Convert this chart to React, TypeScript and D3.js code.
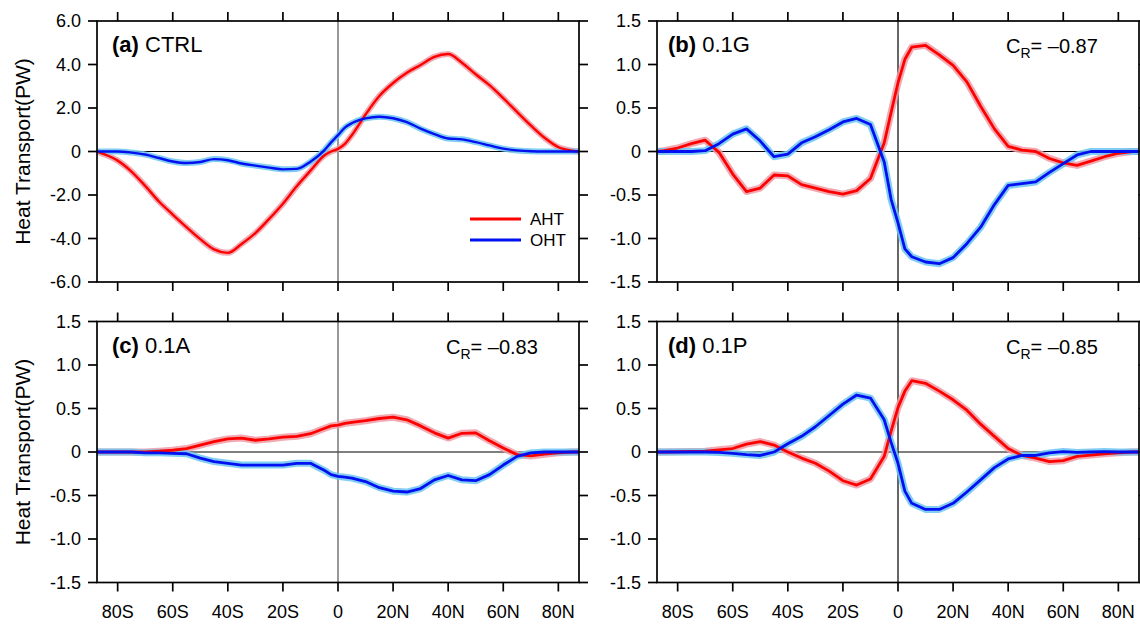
import React from "react";
import * as d3 from "d3";

// latitude grid (deg, negative = south)
const lats = [-87.5, -85, -80, -75, -70, -65, -60, -55, -50, -45, -40, -35, -30, -25, -20, -15, -10, -5, -2.5, 0, 2.5, 5, 10, 15, 20, 25, 30, 35, 40, 45, 50, 55, 60, 65, 70, 75, 80, 85, 87.5];

// (a) CTRL
const ctrlAHT = [0, -0.12, -0.42, -0.92, -1.58, -2.3, -2.9, -3.48, -4.03, -4.5, -4.66, -4.25, -3.75, -3.1, -2.4, -1.6, -0.88, -0.18, 0.0, 0.12, 0.35, 0.75, 1.7, 2.55, 3.15, 3.62, 3.98, 4.35, 4.48, 4.08, 3.55, 3.05, 2.45, 1.82, 1.2, 0.63, 0.2, 0.04, 0];
const ctrlOHT = [0, 0, 0, -0.05, -0.14, -0.3, -0.46, -0.53, -0.48, -0.35, -0.4, -0.55, -0.65, -0.74, -0.82, -0.8, -0.47, 0.05, 0.42, 0.75, 1.1, 1.3, 1.52, 1.6, 1.53, 1.35, 1.05, 0.8, 0.6, 0.56, 0.43, 0.28, 0.13, 0.05, 0.01, 0, 0, 0, 0];

// (b) 0.1G
const gAHT = [0, 0.01, 0.04, 0.09, 0.13, -0.01, -0.26, -0.46, -0.42, -0.27, -0.28, -0.38, -0.42, -0.46, -0.49, -0.45, -0.31, 0.1, 0.45, 0.79, 1.06, 1.2, 1.22, 1.11, 0.99, 0.8, 0.52, 0.26, 0.06, 0.015, 0, -0.08, -0.13, -0.16, -0.11, -0.06, -0.02, 0, 0];
const gOHT = [0, 0, 0, 0, 0.01, 0.09, 0.2, 0.26, 0.12, -0.06, -0.03, 0.1, 0.17, 0.25, 0.34, 0.38, 0.31, -0.12, -0.55, -0.82, -1.12, -1.21, -1.27, -1.29, -1.22, -1.06, -0.87, -0.61, -0.39, -0.37, -0.35, -0.24, -0.14, -0.04, 0, 0, 0, 0, 0];

// (c) 0.1A
const aAHT = [0, 0, 0, 0, 0, 0.01, 0.02, 0.04, 0.08, 0.12, 0.15, 0.16, 0.135, 0.15, 0.17, 0.18, 0.21, 0.27, 0.3, 0.31, 0.33, 0.34, 0.36, 0.385, 0.4, 0.37, 0.3, 0.22, 0.16, 0.215, 0.22, 0.13, 0.045, -0.03, -0.045, -0.025, -0.01, 0, 0];
const aOHT = [0, 0, 0, 0, -0.01, -0.01, -0.015, -0.02, -0.07, -0.11, -0.13, -0.15, -0.15, -0.15, -0.15, -0.13, -0.13, -0.21, -0.26, -0.28, -0.29, -0.3, -0.34, -0.41, -0.45, -0.46, -0.42, -0.32, -0.27, -0.32, -0.33, -0.26, -0.15, -0.05, -0.01, 0, 0, 0, 0];

// (d) 0.1P
const pAHT = [0, 0, 0.003, 0.006, 0.01, 0.025, 0.04, 0.09, 0.12, 0.08, 0.0, -0.07, -0.13, -0.22, -0.33, -0.38, -0.31, -0.05, 0.24, 0.51, 0.7, 0.82, 0.79, 0.7, 0.6, 0.48, 0.32, 0.18, 0.04, -0.04, -0.07, -0.11, -0.1, -0.05, -0.035, -0.02, -0.01, 0, 0];
const pOHT = [0, 0, 0, 0, 0, -0.005, -0.015, -0.03, -0.04, 0.0, 0.095, 0.18, 0.29, 0.42, 0.55, 0.655, 0.62, 0.37, 0.11, -0.13, -0.45, -0.59, -0.66, -0.66, -0.59, -0.46, -0.32, -0.18, -0.08, -0.04, -0.04, -0.01, 0.005, -0.005, 0, 0.005, 0, 0, 0];

const yTicksCtrl = [6, 4, 2, 0, -2, -4, -6];
const yLabelsCtrl = ["6.0", "4.0", "2.0", "0", "-2.0", "-4.0", "-6.0"];
const yTicksExp = [1.5, 1, 0.5, 0, -0.5, -1, -1.5];
const yLabelsExp = ["1.5", "1.0", "0.5", "0", "-0.5", "-1.0", "-1.5"];
const xTicks = [-80, -60, -40, -20, 0, 20, 40, 60, 80];
const xLabels = ["80S", "60S", "40S", "20S", "0", "20N", "40N", "60N", "80N"];

const tags = ["(a)", "(b)", "(c)", "(d)"];
const names = ["CTRL", "0.1G", "0.1A", "0.1P"];
const corrs = ["", "\u20130.87", "\u20130.83", "\u20130.85"];

const FONT = "'Liberation Sans', Arial, Helvetica, sans-serif";
const W = 482;
const H = 261;
const cols = [97, 657];
const rows = [21, 321.5];

type PanelProps = {
  idx: number;
  x0: number;
  y0: number;
  aht: number[];
  oht: number[];
  yMax: number;
  yTicks: number[];
  yLabels: string[];
  smooth: boolean;
  showX: boolean;
  showTitle: boolean;
  legend: boolean;
};

function Panel(p: PanelProps) {
  const x = d3.scaleLinear().domain([-87.5, 87.5]).range([p.x0, p.x0 + W]);
  const y = d3.scaleLinear().domain([-p.yMax, p.yMax]).range([p.y0 + H, p.y0]);
  const line = d3
    .line<number>()
    .x((_, i) => x(lats[i]))
    .y((d) => y(d))
    .curve(p.smooth ? d3.curveMonotoneX : d3.curveLinear);
  const clipId = "clip" + p.idx;
  const x1 = p.x0 + W;
  const y1 = p.y0 + H;
  const bandW = p.smooth ? 6 : 7;

  return (
    <g>
      <defs>
        <clipPath id={clipId}>
          <rect x={p.x0} y={p.y0} width={W} height={H} />
        </clipPath>
      </defs>
      <g clipPath={`url(#${clipId})`}>
        <line x1={p.x0} x2={x1} y1={y(0)} y2={y(0)} stroke="#000" strokeWidth={1.2} />
        <line x1={x(0)} x2={x(0)} y1={p.y0} y2={y1} stroke={p.idx % 2 === 0 ? "#555" : "#000"} strokeWidth={1.2} />
        <path d={line(p.aht) || ""} fill="none" stroke="#ee9aa4" strokeOpacity={0.85} strokeWidth={bandW} strokeLinejoin="round" />
        <path d={line(p.oht) || ""} fill="none" stroke="#6cc4f2" strokeOpacity={0.85} strokeWidth={bandW} strokeLinejoin="round" />
        <path d={line(p.aht) || ""} fill="none" stroke="#ff0000" strokeWidth={p.smooth ? 2.4 : 2.8} strokeLinejoin="round" />
        <path d={line(p.oht) || ""} fill="none" stroke="#0010f0" strokeWidth={p.smooth ? 2.4 : 2.8} strokeLinejoin="round" />
      </g>
      <rect x={p.x0} y={p.y0} width={W} height={H} fill="none" stroke="#000" strokeWidth={1.7} />
      {xTicks.map((t) => (
        <g key={"xt" + t}>
          <line x1={x(t)} x2={x(t)} y1={p.y0} y2={p.y0 - 9} stroke="#000" strokeWidth={1.7} />
          <line x1={x(t)} x2={x(t)} y1={y1} y2={y1 + 9} stroke="#000" strokeWidth={1.7} />
        </g>
      ))}
      {p.yTicks.map((t, i) => (
        <g key={"yt" + t}>
          <line x1={p.x0} x2={p.x0 - 9} y1={y(t)} y2={y(t)} stroke="#000" strokeWidth={1.7} />
          <line x1={x1} x2={x1 + 9} y1={y(t)} y2={y(t)} stroke="#000" strokeWidth={1.7} />
          <text x={p.x0 - 16} y={y(t)} dy="0.36em" textAnchor="end" fontSize={18} fontFamily={FONT}>
            {p.yLabels[i]}
          </text>
        </g>
      ))}
      {p.showX &&
        xTicks.map((t, i) => (
          <text key={"xl" + t} x={x(t)} y={y1 + 35} textAnchor="middle" fontSize={18} fontFamily={FONT}>
            {xLabels[i]}
          </text>
        ))}
      {p.showTitle && (
        <text
          transform={`translate(30,${p.y0 + H / 2}) rotate(-90)`}
          textAnchor="middle"
          fontSize={21}
          fontFamily={FONT}
        >
          Heat Transport(PW)
        </text>
      )}
      <text x={p.x0 + (p.idx % 2 === 0 ? 15 : 11)} y={p.y0 + 31} fontSize={22} fontFamily={FONT}>
        <tspan fontWeight="bold">{tags[p.idx]}</tspan>
        <tspan> {names[p.idx]}</tspan>
      </text>
      {corrs[p.idx] && (
        <text x={p.x0 + 349} y={p.y0 + 32} fontSize={20} fontFamily={FONT}>
          <tspan>C</tspan>
          <tspan fontSize={14} dy={5}>R</tspan>
          <tspan dy={-5}>{"= " + corrs[p.idx]}</tspan>
        </text>
      )}
      {p.legend && (
        <g fontFamily={FONT} fontSize={17}>
          <line x1={p.x0 + 373} x2={p.x0 + 424} y1={p.y0 + 198} y2={p.y0 + 198} stroke="#ff0000" strokeWidth={2.8} />
          <text x={p.x0 + 433} y={p.y0 + 204}>AHT</text>
          <line x1={p.x0 + 373} x2={p.x0 + 424} y1={p.y0 + 219} y2={p.y0 + 219} stroke="#0010f0" strokeWidth={2.8} />
          <text x={p.x0 + 433} y={p.y0 + 225}>OHT</text>
        </g>
      )}
    </g>
  );
}

export default function App() {
  const series = [
    [ctrlAHT, ctrlOHT],
    [gAHT, gOHT],
    [aAHT, aOHT],
    [pAHT, pOHT],
  ];
  return (
    <svg width={1140} height={624} style={{ position: "absolute", left: 0, top: 0, background: "#fff" }}>
      {series.map((s, i) => (
        <Panel
          key={i}
          idx={i}
          x0={cols[i % 2]}
          y0={rows[Math.floor(i / 2)]}
          aht={s[0]}
          oht={s[1]}
          yMax={i === 0 ? 6 : 1.5}
          yTicks={i === 0 ? yTicksCtrl : yTicksExp}
          yLabels={i === 0 ? yLabelsCtrl : yLabelsExp}
          smooth={i === 0}
          showX={i >= 2}
          showTitle={i % 2 === 0}
          legend={i === 0}
        />
      ))}
    </svg>
  );
}
